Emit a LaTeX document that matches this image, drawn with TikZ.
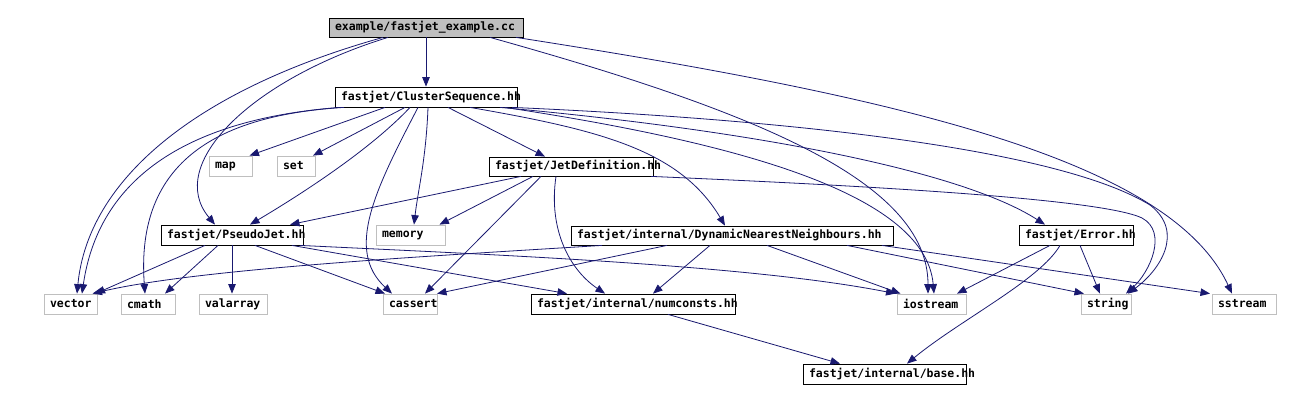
\documentclass[tikz,border=0pt]{standalone}
\usepackage{fontspec}
\setmainfont{DejaVu Sans Mono}
\usetikzlibrary{arrows.meta}
\definecolor{mblue}{HTML}{191970}
\definecolor{gborder}{HTML}{BFBFBF}
\definecolor{rootfill}{HTML}{BFBFBF}
\newcommand\lb[2]{\makebox[#1pt][l]{#2}}
\tikzset{
  nd/.style={rectangle, minimum height=20pt, inner xsep=6pt, inner ysep=0pt,
    font=\bfseries\fontsize{11.5}{13}\selectfont, line width=0.8pt},
  doc/.style={nd, draw=black},
  ext/.style={nd, draw=gborder},
  rootbox/.style={nd, draw=black, fill=rootfill, minimum height=19pt},
  edge/.style={draw=mblue, line width=0.8pt, -{Triangle[length=9.5pt,width=7.5pt]}}
}
\begin{document}
\begin{tikzpicture}[x=1pt,y=-1pt]
\useasboundingbox (0,0) rectangle (1290,401);
\fill[white] (0,0) rectangle (1290,401);
% nodes
\node[rootbox] (root) at (426,27.5) {\lb{182}{example/fastjet\_example.cc}};
\node[doc] (CS) at (426,97) {\lb{170}{fastjet/ClusterSequence.hh}};
\node[ext] (map) at (230.5,166) {\lb{31}{map}};
\node[ext] (set) at (296,166) {\lb{26}{set}};
\node[doc, minimum height=19pt] (JetDef) at (571,166.5) {\lb{152}{fastjet/JetDefinition.hh}};
\node[doc] (PJ) at (232,235) {\lb{130}{fastjet/PseudoJet.hh}};
\node[ext] (memory) at (410.5,235) {\lb{57}{memory}};
\node[doc, minimum height=19pt] (DNN) at (732,235.5) {\lb{310}{fastjet/internal/DynamicNearestNeighbours.hh}};
\node[doc] (Error) at (1076,235) {\lb{102}{fastjet/Error.hh}};
\node[ext] (vector) at (70.5,304) {\lb{41}{vector}};
\node[ext] (cmath) at (148,304) {\lb{42}{cmath}};
\node[ext] (valarray) at (233,304) {\lb{56}{valarray}};
\node[ext] (cassert) at (410,304) {\lb{42}{cassert}};
\node[doc] (numconsts) at (633,304) {\lb{192}{fastjet/internal/numconsts.hh}};
\node[ext] (iostream) at (931.5,304) {\lb{57}{iostream}};
\node[ext] (string) at (1106,304) {\lb{38}{string}};
\node[ext] (sstream) at (1244,304) {\lb{52}{sstream}};
\node[doc] (base) at (884.5,374) {\lb{151}{fastjet/internal/base.hh}};
% root edges
\draw[edge] (root.south) -- (CS.north);
\draw[edge] ([xshift=-43pt]root.south) .. controls (195,90) and (88,180) .. ([xshift=6.5pt]vector.north);
\draw[edge] ([xshift=-38pt]root.south) .. controls (250,80) and (165,165) .. ([xshift=-17pt]PJ.north);
\draw[edge] ([xshift=64pt]root.south) .. controls (750,110) and (928,180) .. ([xshift=-3.5pt]iostream.north);
\draw[edge] ([xshift=90pt]root.south) .. controls (900,97) and (1170,160) .. ([xshift=-12pt]sstream.north);
% ClusterSequence edges
\draw[edge] ([xshift=-41pt]CS.south) -- ([xshift=19pt]map.north);
\draw[edge] ([xshift=-21pt]CS.south) -- ([xshift=17pt]set.north);
\draw[edge] ([xshift=-16pt]CS.south) .. controls (370,150) and (300,195) .. ([xshift=18pt]PJ.north);
\draw[edge] ([xshift=-8pt]CS.south) .. controls (375,190) and (345,250) .. ([xshift=-18pt]cassert.north);
\draw[edge] ([xshift=2pt]CS.south) .. controls (426,160) and (418,190) .. ([xshift=3.5pt]memory.north);
\draw[edge] ([xshift=22pt]CS.south) -- ([xshift=-26pt]JetDef.north);
\draw[edge] ([xshift=44pt]CS.south) .. controls (600,130) and (680,150) .. ([xshift=-7pt]DNN.north);
\draw[edge] ([xshift=74pt]CS.south) .. controls (750,130) and (960,170) .. ([xshift=-31pt]Error.north);
\draw[edge] ([xshift=79pt]CS.south) .. controls (720,140) and (925,190) .. ([xshift=2.5pt]iostream.north);
\draw[edge] ([xshift=86pt]CS.south) .. controls (800,120) and (1060,150) .. (1150,205) .. controls (1185,232) and (1160,270) .. ([xshift=22pt]string.north);
\draw[edge] ([xshift=-86pt]CS.south) .. controls (200,118) and (100,170) .. ([xshift=11.5pt]vector.north);
\draw[edge] ([xshift=-82pt]CS.south) .. controls (220,115) and (135,160) .. ([xshift=-3pt]cmath.north);
% JetDefinition edges
\draw[edge] ([xshift=-50pt]JetDef.south) -- ([xshift=58pt]PJ.north);
\draw[edge] ([xshift=-38pt]JetDef.south) -- ([xshift=29pt]memory.north);
\draw[edge] ([xshift=-30pt]JetDef.south) -- ([xshift=15pt]cassert.north);
\draw[edge] ([xshift=-15pt]JetDef.south) .. controls (548,230) and (570,270) .. ([xshift=-28pt]numconsts.north);
\draw[edge] ([xshift=80pt]JetDef.south) .. controls (850,185) and (1100,198) .. (1142,218) .. controls (1168,232) and (1150,272) .. ([xshift=20pt]string.north);
% DynamicNearestNeighbours edges
\draw[edge] ([xshift=-130pt]DNN.south) .. controls (450,255) and (200,268) .. ([xshift=22pt]vector.north);
\draw[edge] ([xshift=-65pt]DNN.south) -- ([xshift=27pt]cassert.north);
\draw[edge] ([xshift=-22pt]DNN.south) -- ([xshift=20pt]numconsts.north);
\draw[edge] ([xshift=35pt]DNN.south) -- ([xshift=-31pt]iostream.north);
\draw[edge] ([xshift=115pt]DNN.south) -- ([xshift=-22pt]string.north);
\draw[edge] ([xshift=150pt]DNN.south) -- ([xshift=-34pt]sstream.north);
% PseudoJet edges
\draw[edge] ([xshift=-27pt]PJ.south) -- ([xshift=25pt]vector.north);
\draw[edge] ([xshift=-14pt]PJ.south) -- ([xshift=17pt]cmath.north);
\draw[edge] (PJ.south) -- ([xshift=-1pt]valarray.north);
\draw[edge] ([xshift=23pt]PJ.south) -- ([xshift=-25pt]cassert.north);
\draw[edge] ([xshift=60pt]PJ.south) -- ([xshift=-66pt]numconsts.north);
\draw[edge] ([xshift=68pt]PJ.south) .. controls (500,255) and (750,265) .. ([xshift=-36pt]iostream.north);
% Error edges
\draw[edge] ([xshift=-26pt]Error.south) -- ([xshift=25.5pt]iostream.north);
\draw[edge] ([xshift=4pt]Error.south) -- ([xshift=-6pt]string.north);
\draw[edge] ([xshift=-16pt]Error.south) .. controls (1040,280) and (960,320) .. ([xshift=22.5pt]base.north);
% numconsts edge
\draw[edge] ([xshift=35pt]numconsts.south) -- ([xshift=-44.5pt]base.north);
\end{tikzpicture}
\end{document}
